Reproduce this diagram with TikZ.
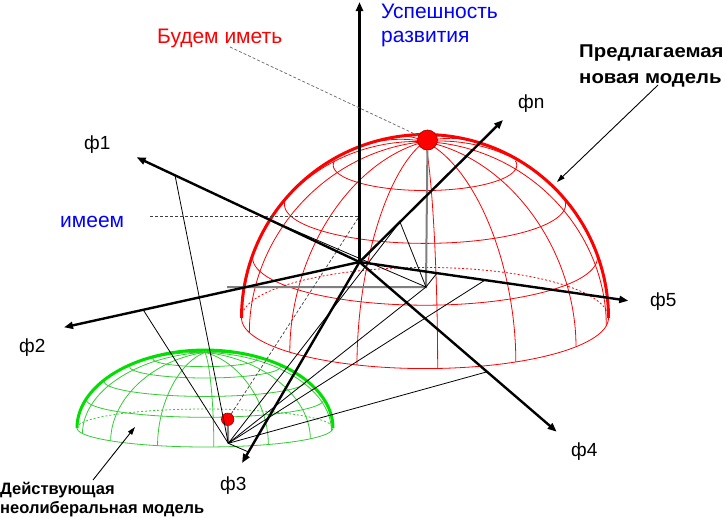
\documentclass[tikz,border=0pt]{standalone}
\usepackage{fontspec}
\setmainfont{Liberation Sans}
\newfontfamily\widesans[FakeStretch=1.1]{Liberation Sans}
\usetikzlibrary{arrows.meta, calc}
\definecolor{domered}{HTML}{FF0000}
\definecolor{domegreen}{HTML}{00E000}
\definecolor{gridgreen}{HTML}{33CC33}
\definecolor{labelblue}{HTML}{0000FF}
\definecolor{plumbgrey}{HTML}{7F7F7F}
\definecolor{ballrim}{HTML}{990000}
\tikzset{
  axis/.style={line width=2.4pt, draw=black, -{Triangle[length=9pt, width=7pt]}},
  ray/.style={line width=0.8pt, draw=black},
  guide/.style={line width=0.7pt, draw=black!75, dash pattern=on 3pt off 2pt},
  pointer/.style={line width=0.9pt, draw=black, -{Triangle[length=8pt, width=5pt]}},
  plumb/.style={line width=2pt, draw=plumbgrey},
  rim/.style={line width=3pt},
  grid/.style={line width=0.8pt},
  ball/.style={circle, fill=domered, draw=ballrim, line width=0.6pt, inner sep=0pt},
  axislabel/.style={font=\fontsize{19}{22}\selectfont, inner sep=0pt, anchor=base west},
  caption/.style={font=\fontsize{21}{24}\selectfont, inner sep=0pt, anchor=base west},
  modelnote/.style={font=\fontsize{18.5}{22}\selectfont\widesans\bfseries, inner sep=0pt, anchor=base west},
  oldnote/.style={font=\fontsize{16.5}{19}\selectfont\bfseries, inner sep=0pt, anchor=base west},
}

\begin{document}
\begin{tikzpicture}[x=1pt, y=-1pt]
  \useasboundingbox (0,0) rectangle (725,517);
  \fill[white] (0,0) rectangle (725,517);

  % the two domes: red (new model) and green (current model)
  \foreach \cx/\cy/\rad/\sq/\tilt/\rimcol/\gridcol/\lats in
      {425/318/183.5/1/16/domered/domered/{20,40,60},
       205/428/128/0.609/14.1/domegreen/gridgreen/{22,38,54,66}} {
    \foreach \lat in \lats {
      \pgfmathsetmacro\qa{-0.35*asin(min(1,tan(\lat)*tan(\tilt)))}
      \pgfmathsetmacro\qb{180-\qa}
      \draw[grid, draw=\gridcol] plot[smooth, domain=\qa:\qb, samples=60, variable=\lon]
        ({\cx+\rad*cos(\lat)*cos(\lon)}, {\cy-\sq*\rad*(sin(\lat)*cos(\tilt)-cos(\lat)*sin(\lon)*sin(\tilt))});
    }
    \foreach \k in {0,...,13} {
      \pgfmathsetmacro\lon{8.9+\k*360/14}
      \pgfmathsetmacro\fa{sin(\lon)<0 ? atan(-sin(\lon)/tan(\tilt)) : 0}
      \draw[grid, draw=\gridcol] plot[smooth, domain=\fa:90, samples=30, variable=\lat]
        ({\cx+\rad*cos(\lat)*cos(\lon)}, {\cy-\sq*\rad*(sin(\lat)*cos(\tilt)-cos(\lat)*sin(\lon)*sin(\tilt))});
    }
    \draw[grid, draw=\gridcol, dash pattern=on 2pt off 2pt] plot[smooth, domain=180:360, samples=60, variable=\lon]
      ({\cx+\rad*cos(\lon)}, {\cy+\sq*\rad*sin(\lon)*sin(\tilt)});
    \draw[grid, draw=\gridcol] plot[smooth, domain=0:180, samples=60, variable=\lon]
      ({\cx+\rad*cos(\lon)}, {\cy+\sq*\rad*sin(\lon)*sin(\tilt)});
    \draw[rim, draw=\rimcol] plot[smooth, domain=0:180, samples=60, variable=\lon]
      ({\cx+\rad*cos(\lon)}, {\cy-\sq*\rad*sin(\lon)});
  }

  % axes
  \coordinate (O) at (359.5,262);
  \coordinate (top) at (359.5,2);
  \coordinate (t1) at (136.7,157.3);
  \coordinate (t2) at (64,327.3);
  \coordinate (t3) at (242,463);
  \coordinate (t4) at (556.7,431.7);
  \coordinate (t5) at (628.3,300.7);
  \coordinate (tn) at (503,120);
  % points on the axes
  \coordinate (p1) at ($(O)!0.828!(t1)$);
  \coordinate (q1) at ($(O)!0.411!(t1)$);
  \coordinate (p2) at ($(O)!0.732!(t2)$);
  \coordinate (p3) at ($(O)!0.945!(t3)$);
  \coordinate (p4) at ($(O)!0.647!(t4)$);
  \coordinate (p5) at ($(O)!0.467!(t5)$);
  \coordinate (q5) at ($(O)!0.288!(t5)$);
  \coordinate (pn) at ($(O)!0.282!(tn)$);
  \coordinate (F) at (426,287);
  \coordinate (Fl) at (227,287);
  \coordinate (P) at (228.3,443.3);
  \coordinate (hv) at (359.5,216);
  \coordinate (hl) at (150,216);

  \node[ball, minimum size=20pt] (willdot) at (427.5,140) {};
  \node[ball, minimum size=12.5pt] (hasdot) at (227.7,419.3) {};

  \draw[plumb] (willdot) -- (F) -- (Fl);
  \draw[plumb] (hasdot) -- (P);
  \draw[guide] (hl) -- (hv);
  \draw[guide] (hasdot) -- (hv);

  \draw[ray] (P) -- (p1);
  \draw[ray] (P) -- (p2);
  \draw[ray] (P) -- (p3);
  \draw[ray] (P) -- (pn);
  \draw[ray] (P) -- (F);
  \draw[ray] (P) -- (p5);
  \draw[ray] (P) -- (p4);
  \draw[ray] (F) -- (q1);
  \draw[ray] (F) -- (pn);
  \draw[ray] (F) -- (q5);

  \foreach \tip in {top,t1,t2,t3,t4,t5,tn}
    \draw[axis] (O) -- (\tip);

  % labels
  \node[axislabel] (f1) at (84,149) {ф1};
  \node[axislabel] (f2) at (19,352) {ф2};
  \node[axislabel] (f3) at (220,490) {ф3};
  \node[axislabel] (f4) at (571,456) {ф4};
  \node[axislabel] (f5) at (650,306) {ф5};
  \node[axislabel] (fn) at (518,108) {фn};

  \node[caption, labelblue] (succ1) at (381,18.5) {Успешность};
  \node[caption, labelblue] (succ2) at (381,42) {развития};
  \node[caption, domered] (will) at (157,43) {Будем иметь};
  \node[caption, labelblue] (have) at (60,227) {имеем};
  \node[modelnote] (new1) at (579,57) {Предлагаемая};
  \node[modelnote] (new2) at (579,83) {новая модель};
  \node[oldnote] (old1) at (0,494.5) {Действующая};
  \node[oldnote] (old2) at (0,513.5) {неолиберальная модель};

  \coordinate (willfrom) at (230,47);
  \draw[guide, draw=black!60] (willfrom) -- (willdot);
  \coordinate (newfrom) at (658,85);
  \coordinate (newto) at (557,182);
  \draw[pointer] (newfrom) -- (newto);
  \coordinate (oldfrom) at (93,480);
  \coordinate (oldto) at (135,427);
  \draw[pointer] (oldfrom) -- (oldto);
\end{tikzpicture}
\end{document}
